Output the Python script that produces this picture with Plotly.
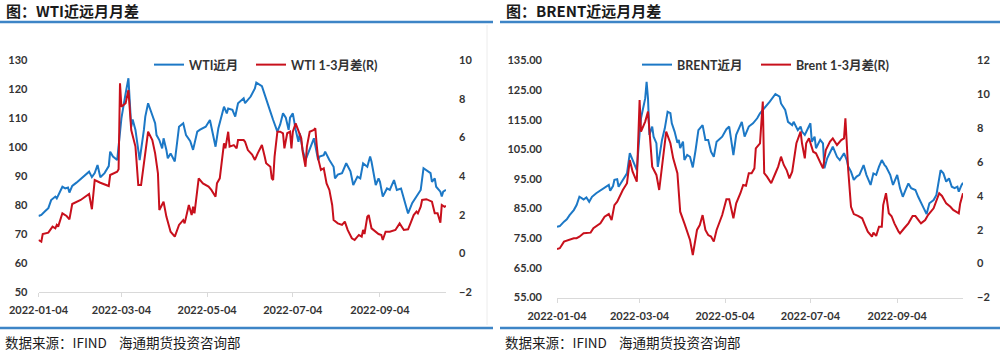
import pandas as pd
import plotly.graph_objects as go

START = pd.Timestamp("2022-01-04")

# ---- WTI near month (left axis) ; day offsets from 2022-01-04 ----
wti_near_day = [0, 2, 5, 7, 9, 12, 13, 17, 19, 21, 22, 24, 27, 32, 36, 38, 40, 42, 43, 44,
                47, 50, 51, 53, 56, 58, 59, 62, 64, 66, 67, 69, 72, 75, 76, 78, 81, 83, 84, 86,
                88, 89, 91, 92, 94, 95, 97, 100, 103, 105, 108, 110, 113, 115, 119, 122, 124, 126, 128, 132,
                134, 135, 138, 140, 142, 146, 147, 151, 154, 155, 159, 160, 162, 165, 167, 170, 172, 174, 176, 178,
                179, 181, 183, 184, 185, 186, 188, 190, 192, 196, 199, 200, 203, 204, 207, 210, 211, 213, 216, 218,
                219, 222, 224, 227, 229, 231, 234, 236, 237, 240, 242, 243, 245, 248, 250, 253, 255, 258, 261, 263,
                266, 268, 272, 274, 276, 279, 280, 282, 283, 286, 287, 288, 290]
wti_near = [76.2, 76.6, 78.0, 78.9, 81.7, 82.9, 82.3, 86.3, 85.7, 86.0, 84.3, 86.6, 87.7, 89.8, 91.5, 89.6, 91.0, 93.8, 92.1, 89.6,
            91.0, 93.4, 98.4, 96.7, 95.5, 104.7, 109.9, 118.5, 123.7, 107.0, 109.5, 105.9, 95.5, 105.9, 110.5, 115.1, 111.2, 108.2, 104.1, 102.4,
            99.5, 103.0, 99.0, 96.1, 97.8, 96.7, 95.0, 107.0, 108.2, 104.1, 102.0, 99.0, 105.3, 106.0, 107.0, 109.3, 104.7, 100.1, 106.5, 113.9,
            111.6, 113.3, 112.8, 110.5, 115.1, 116.8, 115.1, 117.4, 120.2, 122.2, 121.0, 119.4, 116.8, 112.2, 109.3, 105.3, 107.8, 111.6, 110.1, 105.9,
            110.1, 111.6, 105.9, 104.1, 101.8, 104.7, 99.0, 95.5, 97.8, 103.0, 95.5, 96.7, 97.2, 98.4, 95.5, 93.2, 89.2, 90.5, 91.0, 93.2,
            94.4, 91.6, 86.9, 89.8, 89.2, 94.4, 93.2, 96.7, 94.9, 86.9, 89.2, 88.0, 82.9, 85.7, 85.2, 88.6, 85.2, 85.7, 80.7, 77.1,
            80.7, 82.3, 85.2, 92.7, 92.1, 91.0, 88.0, 89.2, 86.3, 84.6, 82.9, 84.6, 85.2]

# ---- WTI 1-3 month spread (right axis) ----
wti_spread_day = [0, 2, 3, 7, 10, 12, 13, 14, 17, 20, 22, 24, 30, 36, 38, 40, 44, 50, 51, 56,
                  57, 58, 59, 62, 64, 65, 66, 69, 71, 73, 76, 78, 81, 83, 85, 86, 89, 91, 94, 97,
                  100, 103, 104, 107, 109, 110, 111, 114, 117, 121, 123, 126, 127, 129, 132, 133, 135, 136, 139, 141,
                  142, 146, 147, 149, 152, 154, 156, 159, 161, 162, 165, 166, 167, 168, 170, 172, 174, 175, 177, 179,
                  180, 181, 183, 185, 187, 188, 190, 191, 193, 196, 197, 198, 199, 201, 203, 205, 207, 209, 210, 213,
                  216, 218, 220, 223, 225, 228, 230, 231, 232, 234, 235, 237, 240, 242, 244, 245, 247, 250, 254, 257,
                  260, 263, 265, 267, 269, 270, 272, 273, 276, 280, 282, 284, 286, 287, 289, 290]
wti_spread = [0.69, 0.60, 1.00, 1.07, 1.38, 1.29, 1.47, 1.38, 2.07, 1.93, 1.76, 2.55, 2.76, 3.07, 2.28, 3.79, 3.65, 3.48, 4.05, 4.22,
              4.35, 8.79, 7.58, 7.76, 8.45, 7.43, 6.38, 5.52, 3.53, 3.53, 5.17, 6.29, 5.86, 5.17, 4.14, 2.24, 2.67, 1.90, 1.12, 0.86,
              1.47, 1.72, 1.55, 2.50, 1.98, 2.41, 2.07, 3.88, 3.62, 3.45, 3.28, 2.93, 3.62, 3.88, 5.69, 5.43, 6.29, 5.52, 5.60, 5.43,
              5.86, 5.86, 5.77, 5.34, 5.11, 4.83, 5.17, 5.60, 5.00, 4.66, 4.48, 3.88, 3.79, 5.00, 6.29, 6.29, 6.21, 5.43, 6.21, 6.29,
              5.43, 6.29, 6.72, 6.38, 5.95, 5.26, 4.48, 5.52, 6.29, 6.38, 6.47, 5.60, 4.91, 4.31, 4.40, 3.62, 3.28, 2.50, 1.72, 1.55,
              1.47, 1.64, 1.21, 0.78, 0.69, 0.95, 0.86, 1.21, 1.00, 1.90, 1.98, 1.29, 1.12, 1.00, 0.95, 0.69, 1.12, 1.12, 1.21, 1.55,
              1.21, 1.24, 1.60, 1.98, 2.16, 2.07, 2.41, 2.76, 2.80, 2.67, 2.07, 2.07, 1.59, 2.50, 2.41, 2.45]

# ---- Brent near month (left axis) ----
brent_near_day = [0, 2, 5, 7, 9, 12, 14, 16, 19, 21, 23, 25, 28, 33, 37, 38, 40, 41, 43, 44,
                  47, 50, 52, 54, 57, 59, 60, 63, 64, 65, 66, 68, 69, 71, 72, 75, 77, 79, 81, 82,
                  84, 86, 87, 88, 90, 91, 93, 95, 96, 97, 99, 101, 104, 106, 108, 110, 112, 114, 118, 121,
                  123, 126, 128, 132, 134, 137, 140, 143, 145, 149, 152, 156, 159, 160, 163, 165, 168, 169, 172, 174,
                  175, 177, 179, 181, 182, 184, 185, 188, 190, 191, 193, 195, 197, 200, 202, 205, 207, 208, 210, 212,
                  214, 216, 219, 221, 224, 226, 228, 230, 232, 234, 235, 238, 240, 241, 243, 245, 247, 249, 251, 253,
                  256, 258, 260, 262, 264, 266, 269, 271, 274, 276, 278, 280, 282, 284, 286, 287, 289, 290]
brent_near = [78.9, 79.1, 80.6, 81.4, 82.8, 84.5, 86.2, 89.0, 88.1, 88.8, 87.3, 89.0, 90.2, 91.8, 93.0, 91.0, 92.6, 94.7, 94.9, 92.4,
              94.7, 96.9, 103.7, 101.4, 98.0, 110.4, 115.5, 122.2, 127.8, 122.2, 109.9, 112.7, 109.3, 107.1, 99.1, 108.2, 112.1, 117.7, 117.2, 113.8,
              111.0, 107.2, 108.2, 105.4, 107.6, 101.4, 103.1, 102.5, 100.3, 98.9, 104.8, 111.5, 113.2, 108.2, 108.2, 104.2, 102.5, 107.6, 109.3, 111.8,
              112.7, 103.1, 109.9, 114.3, 109.3, 112.7, 113.8, 115.5, 117.2, 119.4, 121.1, 123.7, 122.8, 120.5, 118.3, 114.3, 113.2, 114.3, 111.5, 112.7,
              111.0, 109.9, 112.1, 113.8, 107.6, 109.3, 105.4, 108.2, 107.0, 98.6, 102.0, 104.2, 105.9, 102.5, 101.4, 103.7, 101.4, 99.2, 97.5, 94.7,
              95.8, 96.4, 99.7, 96.4, 93.0, 96.9, 96.4, 99.2, 101.4, 99.7, 99.2, 96.4, 93.0, 94.1, 96.4, 91.9, 89.0, 91.3, 93.5, 91.9,
              91.3, 89.0, 87.3, 85.1, 83.2, 86.8, 87.9, 89.6, 98.0, 96.9, 94.1, 95.2, 92.4, 91.9, 92.4, 90.7, 93.0, 93.7]

# ---- Brent 1-3 month spread (right axis) ----
brent_spread_day = [0, 2, 5, 8, 12, 14, 16, 19, 24, 26, 31, 34, 37, 39, 41, 43, 45, 47, 50, 52,
                    54, 57, 59, 60, 63, 65, 66, 68, 71, 73, 75, 78, 81, 83, 86, 88, 91, 95, 97, 100,
                    102, 104, 106, 108, 110, 112, 114, 118, 121, 123, 126, 128, 131, 133, 135, 137, 139, 141, 142, 145,
                    147, 148, 150, 153, 156, 158, 160, 162, 164, 166, 168, 171, 174, 175, 177, 178, 180, 183, 185, 188,
                    190, 192, 195, 197, 200, 203, 205, 206, 208, 210, 212, 215, 218, 220, 222, 225, 226, 228, 230, 232,
                    233, 235, 237, 239, 241, 244, 245, 248, 251, 254, 256, 259, 260, 263, 265, 269, 271, 273, 275, 276,
                    278, 281, 283, 285, 287, 288, 290]
brent_spread = [0.87, 0.91, 1.30, 1.40, 1.50, 1.50, 1.59, 1.79, 1.83, 2.09, 2.38, 2.77, 2.93, 2.58, 3.46, 3.66, 4.06, 4.35, 4.75, 6.12,
                5.43, 4.84, 9.67, 7.80, 8.39, 8.98, 7.90, 5.73, 5.24, 4.35, 5.73, 7.80, 7.11, 6.22, 5.34, 3.07, 2.38, 1.40, 0.51, 1.99,
                2.28, 2.87, 1.99, 1.69, 1.60, 1.30, 1.99, 2.87, 3.80, 3.80, 2.68, 3.56, 4.16, 4.65, 4.60, 5.34, 5.34, 5.63, 6.81, 7.11,
                9.57, 5.34, 5.14, 4.75, 5.34, 5.73, 6.32, 5.83, 5.53, 5.04, 5.43, 7.11, 7.80, 7.11, 6.22, 7.11, 7.40, 6.61, 6.52, 5.93,
                5.63, 6.71, 7.21, 7.40, 7.01, 7.30, 7.40, 8.59, 5.53, 3.36, 2.93, 2.82, 2.68, 2.28, 1.89, 1.59, 1.83, 1.64, 2.18, 2.18,
                3.46, 4.16, 2.98, 2.80, 2.38, 1.89, 1.79, 2.09, 2.38, 2.81, 2.81, 2.48, 2.38, 2.58, 2.87, 3.27, 3.66, 4.16, 4.00, 3.86,
                3.56, 3.36, 3.17, 3.07, 2.97, 3.56, 4.16]

tick_dates = ["2022-01-04", "2022-03-04", "2022-05-04", "2022-07-04", "2022-09-04"]
x_end = "2022-10-21"


def to_dates(days):
    return START + pd.to_timedelta(days, unit="D")


BLUE = "#1c78c6"
RED = "#c8101c"
TICKFONT = dict(family="Lato, Noto Sans CJK SC, sans-serif", size=11, color="#333333", weight="bold")
LEGFONT = dict(family="Lato, Noto Sans CJK SC, sans-serif", size=12.5, color="#333333", weight="bold")

fig = go.Figure()
fig.add_trace(go.Scatter(x=to_dates(wti_near_day), y=wti_near, name="WTI近月", mode="lines", showlegend=True,
                         line=dict(color=BLUE, width=2), xaxis="x", yaxis="y", legend="legend"))
fig.add_trace(go.Scatter(x=to_dates(wti_spread_day), y=wti_spread, name="WTI 1-3月差(R)", mode="lines", showlegend=True,
                         line=dict(color=RED, width=2), xaxis="x", yaxis="y2", legend="legend2"))
fig.add_trace(go.Scatter(x=to_dates(brent_near_day), y=brent_near, name="BRENT近月", mode="lines", showlegend=True,
                         line=dict(color=BLUE, width=2), xaxis="x2", yaxis="y3", legend="legend3"))
fig.add_trace(go.Scatter(x=to_dates(brent_spread_day), y=brent_spread, name="Brent 1-3月差(R)", mode="lines", showlegend=True,
                         line=dict(color=RED, width=2), xaxis="x2", yaxis="y4", legend="legend4"))

H = 353.0


def py(px):
    return 1 - px / H


def leg(x_px):
    return dict(orientation="h", x=x_px / 1000, y=py(65), xanchor="left", yanchor="middle", font=LEGFONT,
                bgcolor="rgba(0,0,0,0)", itemwidth=30, visible=True)


xcommon = dict(type="date", tickvals=tick_dates, tickformat="%Y-%m-%d", showgrid=False,
               showline=True, linecolor="#d9d9d9", linewidth=1, ticks="outside", ticklen=4,
               tickcolor="#d9d9d9", tickfont=TICKFONT, range=[tick_dates[0], x_end], zeroline=False,
               automargin=False, ticklabelstandoff=4)
ycommon = dict(showgrid=False, zeroline=False, showline=False, ticks="", tickfont=TICKFONT, automargin=False)

fig.update_layout(
    width=1000, height=353, margin=dict(l=0, r=0, t=0, b=0, autoexpand=False),
    paper_bgcolor="white", plot_bgcolor="white", showlegend=True,
    xaxis=dict(domain=[0.0385, 0.446], anchor="y", **xcommon),
    yaxis=dict(domain=[py(292), py(60)], range=[50, 130], dtick=10, ticklabelstandoff=10, **ycommon),
    yaxis2=dict(overlaying="y", side="right", anchor="x", range=[-2, 10], dtick=2, ticklabelstandoff=12, **ycommon),
    xaxis2=dict(domain=[0.557, 0.963], anchor="y3", **xcommon),
    yaxis3=dict(domain=[py(297.5), py(60.5)], anchor="x2", range=[55, 135], tick0=55, dtick=10, tickformat=".2f",
                ticklabelstandoff=14, **ycommon),
    yaxis4=dict(overlaying="y3", side="right", anchor="x2", range=[-2, 12], dtick=2, ticklabelstandoff=13, **ycommon),
    legend=leg(149), legend2=leg(251), legend3=leg(637), legend4=leg(756),
)

TITLEFONT = dict(family="Noto Sans CJK SC, sans-serif", size=15, color="#1a1a1a", weight="bold")
FOOTFONT = dict(family="Noto Sans CJK SC, sans-serif", size=13.5, color="#1a1a1a")
NB = "\u00a0"
for x0, title in [(4, "图：WTI近远月月差"), (504, "图：BRENT近远月月差")]:
    fig.add_annotation(x=x0 / 1000, y=py(11), xref="paper", yref="paper", text=title, showarrow=False,
                       xanchor="left", yanchor="middle", font=TITLEFONT)
    fig.add_annotation(x=(x0 - 1) / 1000, y=py(342), xref="paper", yref="paper",
                       text="数据来源：IFIND" + NB * 4 + "海通期货投资咨询部", showarrow=False,
                       xanchor="left", yanchor="middle", font=FOOTFONT)

for a, b in [(0, 493), (500, 1000)]:
    fig.add_shape(type="line", xref="paper", yref="paper", x0=a / 1000, x1=b / 1000, y0=py(22), y1=py(22),
                  line=dict(color="#3d85c6", width=2.5))
    fig.add_shape(type="line", xref="paper", yref="paper", x0=a / 1000, x1=b / 1000, y0=py(328), y1=py(328),
                  line=dict(color="#3d85c6", width=2.5))
fig.add_shape(type="line", xref="paper", yref="paper", x0=0.487, x1=0.487, y0=py(325), y1=py(25),
              line=dict(color="#ececec", width=1))

fig.write_html("out.html")
